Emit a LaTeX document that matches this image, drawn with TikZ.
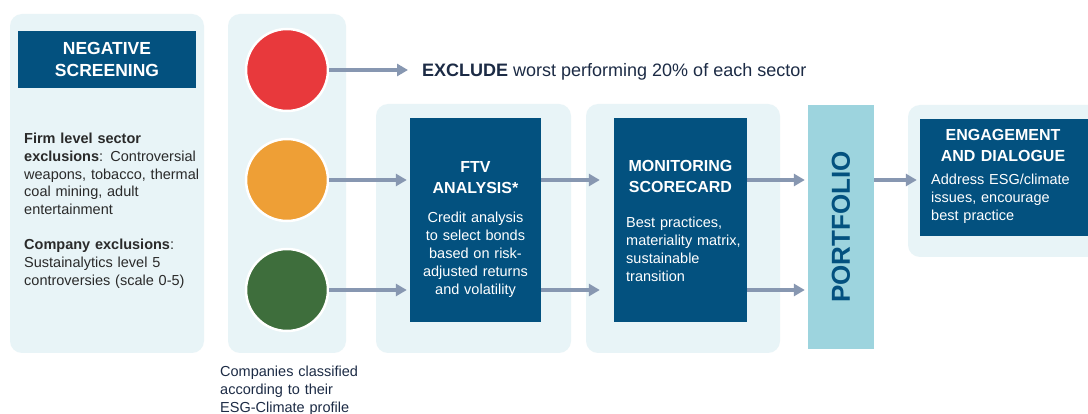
\documentclass[tikz,border=0pt]{standalone}
\usepackage{fontspec}
\setmainfont{Liberation Sans}
\usetikzlibrary{arrows.meta}
\definecolor{navy}{HTML}{03517F}
\definecolor{panelbg}{HTML}{E8F4F7}
\definecolor{portc}{HTML}{9DD4DE}
\definecolor{arrc}{HTML}{8797B1}
\definecolor{txtc}{HTML}{2A2A2A}
\definecolor{exclc}{HTML}{1C2B45}
\definecolor{redc}{HTML}{E8393C}
\definecolor{orangec}{HTML}{EE9F36}
\definecolor{greenc}{HTML}{3E6E3C}
\newcommand\bdyfont{\fontsize{14.5pt}{17.8pt}\selectfont}
\newcommand\ttlfont{\fontsize{16pt}{21pt}\selectfont\bfseries}
\tikzset{
  panel/.style={fill=panelbg, draw=none, rounded corners=12pt, inner sep=0pt},
  darkbox/.style={fill=navy, draw=none, inner sep=0pt},
  light/.style={circle, draw=white, line width=2.5pt, minimum size=82pt, inner sep=0pt},
  arr/.style={draw=arrc, line width=3.5pt, -{Triangle[length=11pt,width=12pt]}},
  body/.style={inner sep=0pt, font=\bdyfont, text=txtc, align=left},
  wbody/.style={inner sep=0pt, font=\bdyfont, text=white, align=left},
  wtitle/.style={inner sep=0pt, font=\ttlfont, text=white, align=center},
}
\begin{document}
\begin{tikzpicture}[x=1pt,y=-1pt]
\clip (0,0) rectangle (1088,414);
\fill[white] (0,0) rectangle (1088,414);
% panels
\node[panel, minimum width=194pt, minimum height=339pt] (leftpanel) at (107,183.5) {};
\node[panel, minimum width=118pt, minimum height=339pt] (lightpanel) at (287,183.5) {};
\node[panel, minimum width=195pt, minimum height=249pt] (ftvpanel) at (473.5,228.5) {};
\node[panel, minimum width=194pt, minimum height=249pt] (monpanel) at (683,228.5) {};
\node[panel, minimum width=192pt, minimum height=152pt] (engpanel) at (1004,181) {};
% dark boxes
\node[darkbox, minimum width=178pt, minimum height=57pt] (negbox) at (107,59.5) {};
\node[darkbox, minimum width=131pt, minimum height=204pt] (ftv) at (475.5,220) {};
\node[darkbox, minimum width=133pt, minimum height=204pt] (mon) at (680.5,220) {};
\node[darkbox, minimum width=180pt, minimum height=117pt] (eng) at (1010,177.5) {};
\node[fill=portc, inner sep=0pt, minimum width=66pt, minimum height=244pt] (port) at (841,227) {};
\node[rotate=90, inner sep=0pt, text=navy, font=\fontsize{26pt}{30pt}\selectfont\bfseries] (porttxt) at (841,227) {PORTFOLIO};
% traffic lights
\node[light, fill=redc] (red) at (287,70) {};
\node[light, fill=orangec] (orange) at (287,180) {};
\node[light, fill=greenc] (green) at (287,290) {};
% texts
\node[wtitle, font=\fontsize{17.5pt}{21.7pt}\selectfont\bfseries, text width=178pt, anchor=base] (negtitle) at (107,54.6) {NEGATIVE\\SCREENING};
\node[body, text width=185pt, anchor=base west] (firm) at (24,143.5) {\textbf{Firm level sector}\\\textbf{exclusions}: Controversial\\weapons, tobacco, thermal\\coal mining, adult\\entertainment};
\node[body, text width=185pt, anchor=base west] (comp) at (24,250) {\textbf{Company exclusions}:\\Sustainalytics level 5\\controversies (scale 0-5)};
\node[body, text=exclc, text width=160pt, anchor=base west] (classified) at (220,377) {Companies classified\\according to their\\ESG-Climate profile};
\node[inner sep=0pt, text=exclc, font=\fontsize{18pt}{21pt}\selectfont, anchor=base west] (excl) at (422,76.7) {\textbf{EXCLUDE} worst performing 20\% of each sector};
\node[wtitle, text width=131pt, anchor=base] (ftvtitle) at (475.5,173) {FTV\\ANALYSIS*};
\node[wbody, align=center, text width=131pt, anchor=base] (ftvbody) at (475.5,223) {Credit analysis\\to select bonds\\based on risk-\\adjusted returns\\and volatility};
\node[wtitle, text width=133pt, anchor=base] (montitle) at (680.5,172) {MONITORING\\SCORECARD};
\node[wbody, text width=120pt, anchor=base west] (monbody) at (626,228) {Best practices,\\materiality matrix,\\sustainable\\transition};
\node[wtitle, text width=160pt, anchor=base] (engtitle) at (1003,141) {ENGAGEMENT\\AND DIALOGUE};
\node[wbody, text width=155pt, anchor=base west] (engbody) at (931,185) {Address ESG/climate\\issues, encourage\\best practice};
% arrows
\draw[arr, shorten >=14pt] (red.east) -- (red.east -| excl.west);
\draw[arr, shorten >=3pt] (orange.east) -- (orange.east -| ftv.west);
\draw[arr, shorten >=3pt] (green.east) -- (green.east -| ftv.west);
\draw[arr, shorten >=14pt] (ftv.east |- orange.east) -- (mon.west |- orange.east);
\draw[arr, shorten >=14pt] (ftv.east |- green.east) -- (mon.west |- green.east);
\draw[arr, shorten >=3pt] (mon.east |- orange.east) -- (port.west |- orange.east);
\draw[arr, shorten >=3pt] (mon.east |- green.east) -- (port.west |- green.east);
\draw[arr, shorten >=3pt] (port.east |- orange.east) -- (eng.west |- orange.east);
\end{tikzpicture}
\end{document}
